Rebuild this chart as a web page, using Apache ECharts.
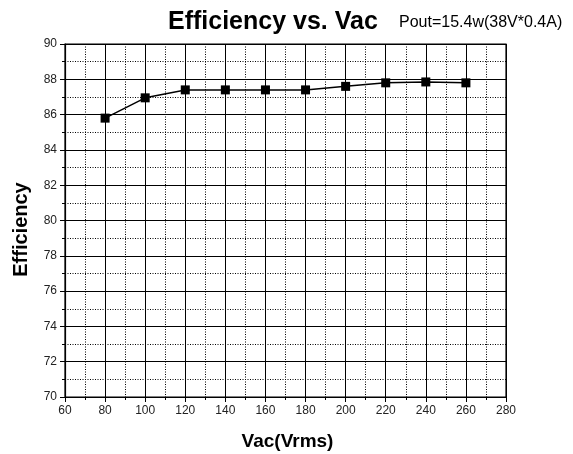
<!DOCTYPE html>
<html><head><meta charset="utf-8">
<script src="https://cdn.jsdelivr.net/npm/echarts@6/dist/echarts.min.js"></script>
<style>html,body{margin:0;padding:0;background:#fff}#c{width:573px;height:454px}</style>
</head><body><div id="c"></div>
<script>
const vac = [80, 100, 120, 140, 160, 180, 200, 220, 240, 260];
const efficiency = [85.8, 86.95, 87.4, 87.4, 87.4, 87.4, 87.6, 87.8, 87.85, 87.8];
const titleText = 'Efficiency vs. Vac';
const subText = 'Pout=15.4w(38V*0.4A)';
const xName = 'Vac(Vrms)';
const yName = 'Efficiency';

const chart = echarts.init(document.getElementById('c'), null, {renderer: 'canvas'});
const font = 'Arial, "Liberation Sans", sans-serif';
chart.setOption({
  animation: false,
  backgroundColor: '#fff',
  title: [
    {text: titleText, left: 163, top: 5, textStyle: {fontFamily: font, fontSize: 25, fontWeight: 'bold', color: '#000'}},
    {text: subText, left: 394, top: 10, textStyle: {fontFamily: font, fontSize: 16, fontWeight: 'normal', color: '#000'}}
  ],
  grid: {left: 65, top: 44, right: 67, bottom: 57, containLabel: false, outerBoundsMode: 'none', show: true, borderColor: '#000', borderWidth: 1.2, backgroundColor: 'transparent'},
  xAxis: {
    type: 'value', min: 60, max: 280, interval: 20,
    name: xName, nameLocation: 'middle', nameGap: 35,
    nameTextStyle: {fontFamily: font, fontSize: 19, fontWeight: 'bold', color: '#000', padding: [0, 0, 0, 4]},
    axisLine: {show: true, onZero: false, lineStyle: {color: '#000', width: 1.2}},
    axisTick: {show: true, inside: false, length: 5, lineStyle: {color: '#000'}},
    minorTick: {show: true, splitNumber: 2, length: 3, lineStyle: {color: '#000'}},
    axisLabel: {fontFamily: font, fontSize: 12, color: '#222', margin: 8},
    splitLine: {show: true, lineStyle: {color: '#000', width: 1}},
    minorSplitLine: {show: true, lineStyle: {color: '#000', width: 1, type: [1, 1.5]}}
  },
  yAxis: {
    type: 'value', min: 70, max: 90, interval: 2,
    name: yName, nameLocation: 'middle', nameGap: 34,
    nameTextStyle: {fontFamily: font, fontSize: 20, fontWeight: 'bold', color: '#000', padding: [0, 18, 0, 0]},
    axisLine: {show: true, onZero: false, lineStyle: {color: '#000', width: 1.2}},
    axisTick: {show: true, inside: false, length: 5, lineStyle: {color: '#000'}},
    minorTick: {show: true, splitNumber: 2, length: 3, lineStyle: {color: '#000'}},
    axisLabel: {fontFamily: font, fontSize: 12, color: '#222', margin: 8},
    splitLine: {show: true, lineStyle: {color: '#000', width: 1}},
    minorSplitLine: {show: true, lineStyle: {color: '#000', width: 1, type: [1, 1.5]}}
  },
  series: [{
    type: 'line',
    data: vac.map((v, i) => [v, efficiency[i]]),
    symbol: 'rect', symbolSize: 9,
    itemStyle: {color: '#000'},
    lineStyle: {color: '#000', width: 1.5}
  }]
});
</script></body></html>
